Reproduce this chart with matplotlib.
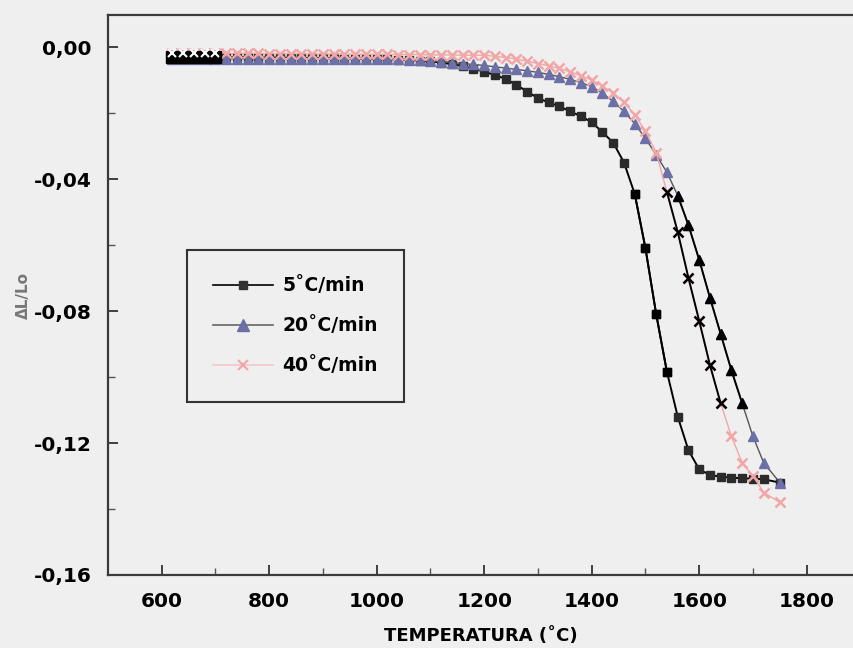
import numpy as np
import matplotlib
matplotlib.use("Agg")
import matplotlib.pyplot as plt
from matplotlib.lines import Line2D
from matplotlib.ticker import FixedLocator, FixedFormatter

# Dilatometry: relative shrinkage vs temperature for three heating rates
temps = [620, 640, 660, 680, 700, 720, 740, 760, 780, 800, 820, 840, 860, 880,
         900, 920, 940, 960, 980, 1000, 1020, 1040, 1060, 1080, 1100, 1120,
         1140, 1160, 1180, 1200, 1220, 1240, 1260, 1280, 1300, 1320, 1340,
         1360, 1380, 1400, 1420, 1440, 1460, 1480, 1500, 1520, 1540, 1560,
         1580, 1600, 1620, 1640, 1660, 1680, 1700, 1720, 1750]

dl_5 = [-0.0030, -0.0030, -0.0030, -0.0030, -0.0030, -0.0031, -0.0031, -0.0031,
        -0.0032, -0.0032, -0.0032, -0.0033, -0.0033, -0.0033, -0.0034, -0.0034,
        -0.0035, -0.0035, -0.0036, -0.0036, -0.0037, -0.0038, -0.0039, -0.0041,
        -0.0043, -0.0047, -0.0052, -0.0058, -0.0066, -0.0075, -0.0085, -0.0097,
        -0.0115, -0.0135, -0.0155, -0.0168, -0.0180, -0.0195, -0.0210, -0.0228,
        -0.0258, -0.0290, -0.0350, -0.0445, -0.0610, -0.0810, -0.0985, -0.1120,
        -0.1222, -0.1280, -0.1297, -0.1302, -0.1305, -0.1307, -0.1308, -0.1310,
        -0.1320]

dl_20 = [-0.0035, -0.0035, -0.0035, -0.0035, -0.0035, -0.0035, -0.0035, -0.0035,
         -0.0035, -0.0035, -0.0035, -0.0035, -0.0035, -0.0035, -0.0035, -0.0035,
         -0.0035, -0.0035, -0.0035, -0.0035, -0.0036, -0.0037, -0.0038, -0.0040,
         -0.0042, -0.0044, -0.0047, -0.0050, -0.0053, -0.0056, -0.0060, -0.0064,
         -0.0068, -0.0072, -0.0077, -0.0083, -0.0090, -0.0098, -0.0108, -0.0120,
         -0.0140, -0.0165, -0.0195, -0.0232, -0.0277, -0.0327, -0.0380, -0.0450,
         -0.0540, -0.0645, -0.0760, -0.0870, -0.0980, -0.1080, -0.1180, -0.1260,
         -0.1320]

dl_40 = [-0.0018, -0.0018, -0.0018, -0.0018, -0.0018, -0.0019, -0.0019, -0.0019,
         -0.0019, -0.0020, -0.0020, -0.0020, -0.0020, -0.0021, -0.0021, -0.0021,
         -0.0021, -0.0022, -0.0022, -0.0022, -0.0022, -0.0023, -0.0023, -0.0023,
         -0.0024, -0.0024, -0.0024, -0.0025, -0.0025, -0.0025, -0.0028, -0.0032,
         -0.0037, -0.0043, -0.0050, -0.0057, -0.0065, -0.0075, -0.0087, -0.0100,
         -0.0118, -0.0140, -0.0168, -0.0205, -0.0255, -0.0320, -0.0440, -0.0560,
         -0.0700, -0.0830, -0.0964, -0.1080, -0.1180, -0.1260, -0.1300, -0.1350,
         -0.1380]

series_labels = ["5˚C/min", "20˚C/min", "40˚C/min"]

x_ticks = [600, 800, 1000, 1200, 1400, 1600, 1800]
x_minor = [700, 900, 1100, 1300, 1500, 1700]
y_ticks = [0.00, -0.04, -0.08, -0.12, -0.16]
y_tick_labels = ["0,00", "-0,04", "-0,08", "-0,12", "-0,16"]
y_minor = [-0.02, -0.06, -0.10, -0.14]

BG = "#efefef"
C5 = "#2b2b2b"
C20 = "#6c70a6"
C40 = "#f2a6a6"

plt.rcParams["font.family"] = ["DejaVu Sans"]
fig = plt.figure(figsize=(8.54, 6.48), dpi=100, facecolor=BG)
ax = fig.add_axes([108 / 854, 1 - 575 / 648, 1 - 108 / 854, (575 - 15) / 648])
ax.set_facecolor(BG)

t = np.array(temps)
y5 = np.array(dl_5)
y20 = np.array(dl_20)
y40 = np.array(dl_40)


def draw(y, color, line_color, marker, ms, mew, lw, dark=None, z=2):
    ax.plot(t, y, color=line_color, lw=lw, marker=marker, ms=ms,
            mfc=color, mec=color, mew=mew, zorder=z)
    if dark is not None:
        m = (t >= dark[0]) & (t <= dark[1])
        ax.plot(t[m], y[m], color="black", lw=1.4, marker=marker, ms=ms,
                mfc="black", mec="black", mew=mew, zorder=z + 0.5)


draw(y5, C5, "black", "s", 6.3, 1, 1.4, dark=(1480, 1540), z=2)
draw(y20, C20, "#555555", "^", 7.5, 1, 1.0, dark=(1560, 1680), z=3)
draw(y40, C40, C40, "x", 6.5, 1.8, 1.0, dark=(1540, 1640), z=4)

# dense start of the record: dark block with light crosses
m0 = t <= 700
ax.plot(t[m0], y5[m0], ls="none", marker="s", ms=8.5, mfc="black", mec="black", zorder=6)
ax.plot(t[m0], y40[m0], ls="none", marker="x", ms=6, mew=1.5, color="white", zorder=7)

ax.set_xlim(500, 1888)
ax.set_ylim(-0.16, 0.0097)

ax.xaxis.set_major_locator(FixedLocator(x_ticks))
ax.xaxis.set_minor_locator(FixedLocator(x_minor))
ax.yaxis.set_major_locator(FixedLocator(y_ticks))
ax.yaxis.set_major_formatter(FixedFormatter(y_tick_labels))
ax.yaxis.set_minor_locator(FixedLocator(y_minor))

ax.tick_params(axis="both", which="major", direction="in", length=7, width=1.2,
               color="#222222", labelsize=14.5, pad=12)
ax.tick_params(axis="both", which="minor", direction="in", length=5, width=1.0,
               color="#555555")
ax.tick_params(top=False, right=False, which="both")
for lab in ax.get_xticklabels() + ax.get_yticklabels():
    lab.set_fontweight("bold")

for side in ("left", "top", "bottom"):
    ax.spines[side].set_color("#3a3a3a")
    ax.spines[side].set_linewidth(1.6)
ax.spines["right"].set_visible(False)

ax.set_xlabel("TEMPERATURA (˚C)", fontsize=13, fontweight="bold", labelpad=12)
ax.set_ylabel("ΔL/Lo", fontsize=11, fontweight="bold", color="#777777", labelpad=2)

handles = [
    Line2D([], [], color="black", lw=1.2, marker="s", ms=6, mfc="#333333", mec="#333333"),
    Line2D([], [], color="#666666", lw=1.2, marker="^", ms=8, mfc=C20, mec=C20),
    Line2D([], [], color="#f4c8c8", lw=1.2, marker="x", ms=7, mew=1.5, mfc=C40, mec=C40),
]
leg = ax.legend(handles, series_labels, loc="upper left",
                bbox_to_anchor=((187 - 108) / 746, 1 - (250 - 15) / 560),
                borderaxespad=0.0,
                frameon=True, fancybox=False, edgecolor="#333333", facecolor=BG,
                framealpha=1, handlelength=3.2, handletextpad=0.5,
                borderpad=1.4, labelspacing=1.12,
                prop={"weight": "bold", "size": 13.5})
leg.get_frame().set_linewidth(1.5)

fig.savefig("out.png", dpi=100, facecolor=BG)
